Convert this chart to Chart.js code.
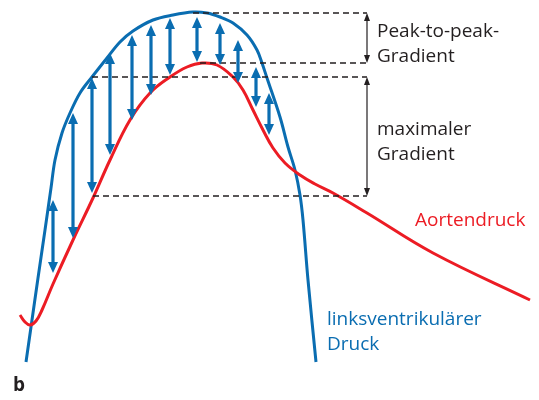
<!DOCTYPE html>
<html>
<head>
<meta charset="utf-8">
<script src="https://cdn.jsdelivr.net/npm/chart.js@4.4.1/dist/chart.umd.min.js"></script>
<style>
    html, body { margin: 0; padding: 0; background: #fff; }
    #wrap { width: 539px; height: 400px; }
</style>
</head>
<body>
<div id="wrap"><canvas id="pressureChart" width="539" height="400"></canvas></div>
<script>
// Linksventrikulärer Druck (Zeit, Druck)
const lvTime     = [26, 31, 38, 45, 51, 55, 62, 70, 80, 92, 107, 120, 133, 153, 173, 193, 207, 220, 233, 247, 257, 262, 267, 280, 288, 295, 300, 303, 308, 316];
const lvPressure = [38, 73, 122, 170, 212, 240, 267, 287, 307, 323, 342, 358, 369, 380, 385, 388, 387, 383, 377, 365, 350, 337, 322, 283, 253, 230, 205, 180, 120, 38];

// Aortendruck
const aoTime     = [20, 25, 30, 36, 42, 53, 73, 93, 110, 130, 150, 170, 187, 202, 217, 233, 243, 253, 263, 273, 285, 300, 315, 333, 367, 433, 530];
const aoPressure = [85, 78, 75, 79, 90, 116, 160, 202, 240, 280, 307, 323, 333, 337, 335, 323, 310, 290, 270, 252, 237, 225, 216, 207, 187, 147, 100];

// blaue Doppelpfeile (Gradient zu jedem Zeitpunkt)
const arrowTime = [53, 73, 92, 110, 132, 151, 170, 197, 220, 238, 256, 269];
const arrowHigh = [200, 287, 322, 347, 365, 375, 382, 383, 377, 360, 333, 307];
const arrowLow  = [127, 162, 207, 245, 280, 305, 325, 338, 335, 317, 293, 265];

// gestrichelte Hilfslinien
const refLevel = [387, 337, 323, 204];
const refStart = [193, 200, 92, 93];
const refEnd = 367;

// Beschriftungen
const gradientLabels = [
    { lines: ['Peak-to-peak-', 'Gradient'], from: 387, to: 337, textY: [363, 338] },
    { lines: ['maximaler', 'Gradient'], from: 323, to: 204, textY: [265, 240] }
];

const BLUE = '#0a6db1';
const RED = '#ec1c24';
const INK = '#231f20';
const FONT = '"Open Sans", "Noto Sans", sans-serif';

// Doppelpfeil zeichnen
function doubleArrow(ctx, x, yTop, yBottom, color, lw, headW, headL) {
    ctx.save();
    ctx.strokeStyle = color;
    ctx.fillStyle = color;
    ctx.lineWidth = lw;
    ctx.beginPath();
    ctx.moveTo(x, yTop + headL - 1);
    ctx.lineTo(x, yBottom - headL + 1);
    ctx.stroke();
    ctx.beginPath();
    ctx.moveTo(x, yTop);
    ctx.lineTo(x - headW / 2, yTop + headL);
    ctx.lineTo(x + headW / 2, yTop + headL);
    ctx.closePath();
    ctx.fill();
    ctx.beginPath();
    ctx.moveTo(x, yBottom);
    ctx.lineTo(x - headW / 2, yBottom - headL);
    ctx.lineTo(x + headW / 2, yBottom - headL);
    ctx.closePath();
    ctx.fill();
    ctx.restore();
}

const overlayPlugin = {
    id: 'overlay',
    afterDatasetsDraw(chart) {
        const ctx = chart.ctx;
        const xs = chart.scales.x;
        const ys = chart.scales.y;

        arrowTime.forEach((t, i) => {
            doubleArrow(ctx, xs.getPixelForValue(t), ys.getPixelForValue(arrowHigh[i]),
                ys.getPixelForValue(arrowLow[i]), BLUE, 3.2, 10, 11);
        });

        ctx.save();
        ctx.fillStyle = INK;
        ctx.font = '19px ' + FONT;
        ctx.textBaseline = 'alphabetic';
        gradientLabels.forEach(g => {
            doubleArrow(ctx, xs.getPixelForValue(refEnd), ys.getPixelForValue(g.from),
                ys.getPixelForValue(g.to), INK, 1.2, 6, 8);
            g.lines.forEach((line, j) => {
                ctx.fillText(line, xs.getPixelForValue(377), ys.getPixelForValue(g.textY[j]));
            });
        });

        ctx.fillStyle = RED;
        ctx.fillText('Aortendruck', xs.getPixelForValue(415), ys.getPixelForValue(174));
        ctx.fillStyle = BLUE;
        ctx.fillText('linksventrikulärer', xs.getPixelForValue(327), ys.getPixelForValue(75));
        ctx.fillText('Druck', xs.getPixelForValue(327), ys.getPixelForValue(50));

        ctx.fillStyle = INK;
        ctx.font = 'bold 19px ' + FONT;
        ctx.fillText('b', xs.getPixelForValue(13), ys.getPixelForValue(9));
        ctx.restore();
    }
};

const toPoints = (xs, ys) => xs.map((x, i) => ({ x: x, y: ys[i] }));

const dashedSets = refLevel.map((lvl, i) => ({
    data: [{ x: refStart[i], y: lvl }, { x: refEnd, y: lvl }],
    borderColor: INK,
    borderWidth: 1.3,
    borderDash: [6, 4],
    pointRadius: 0,
    showLine: true,
    tension: 0
}));

const ctx = document.getElementById('pressureChart').getContext('2d');
new Chart(ctx, {
    type: 'scatter',
    data: {
        datasets: [
            ...dashedSets,
            {
                label: 'Aortendruck',
                data: toPoints(aoTime, aoPressure),
                borderColor: RED,
                borderWidth: 3,
                pointRadius: 0,
                showLine: true,
                tension: 0.4
            },
            {
                label: 'linksventrikulärer Druck',
                data: toPoints(lvTime, lvPressure),
                borderColor: BLUE,
                borderWidth: 3,
                pointRadius: 0,
                showLine: true,
                tension: 0.35
            }
        ]
    },
    options: {
        responsive: false,
        animation: false,
        layout: { padding: 0 },
        plugins: {
            legend: { display: false },
            tooltip: { enabled: false }
        },
        scales: {
            x: { type: 'linear', min: 0, max: 539, display: false },
            y: { type: 'linear', min: 0, max: 400, display: false }
        }
    },
    plugins: [overlayPlugin]
});
</script>
</body>
</html>
